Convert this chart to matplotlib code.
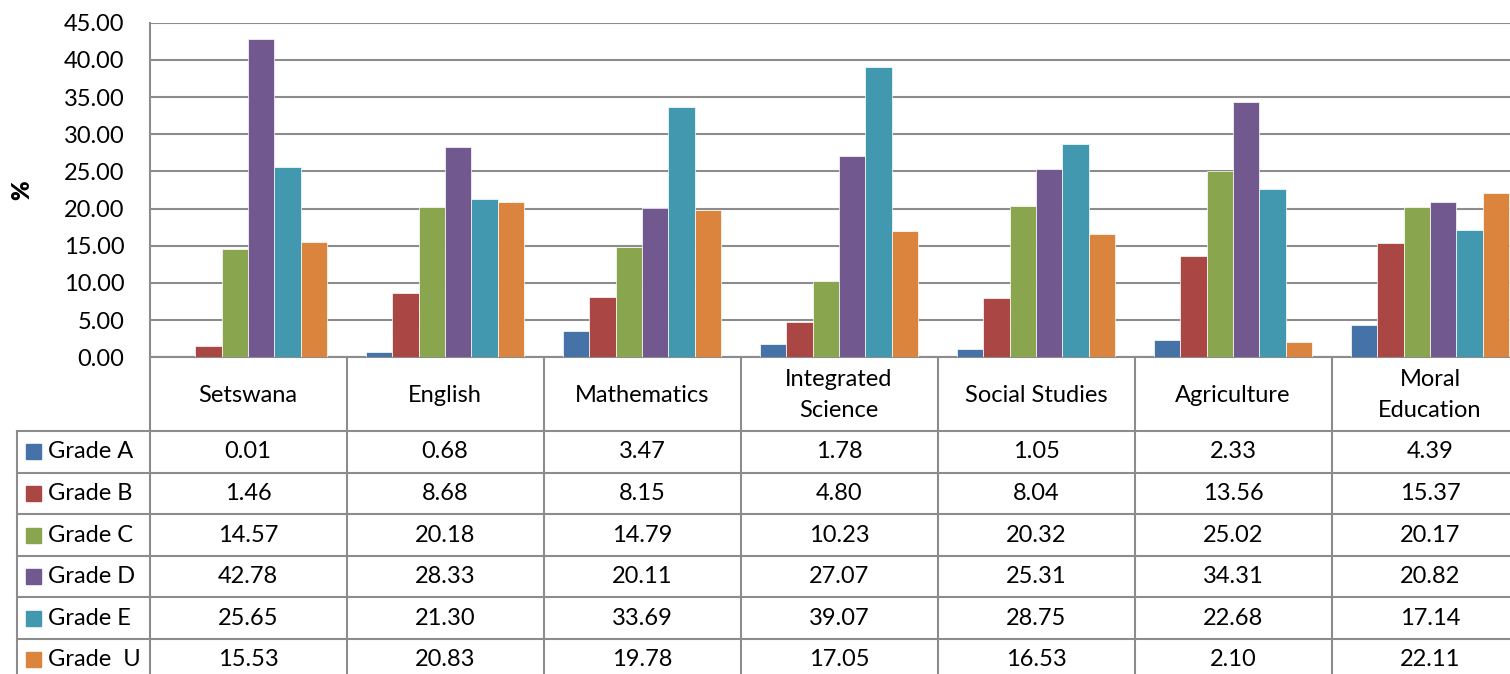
import numpy as np
import matplotlib
matplotlib.use("Agg")
import matplotlib.pyplot as plt
from matplotlib.patches import Rectangle

plt.rcParams['font.family'] = ['Lato', 'DejaVu Sans']

subjects = ['Setswana', 'English', 'Mathematics', 'Integrated\nScience',
            'Social Studies', 'Agriculture', 'Moral\nEducation']
grades = ['Grade A', 'Grade B', 'Grade C', 'Grade D', 'Grade E', 'Grade  U']
grade_a = [0.01, 0.68, 3.47, 1.78, 1.05, 2.33, 4.39]
grade_b = [1.46, 8.68, 8.15, 4.80, 8.04, 13.56, 15.37]
grade_c = [14.57, 20.18, 14.79, 10.23, 20.32, 25.02, 20.17]
grade_d = [42.78, 28.33, 20.11, 27.07, 25.31, 34.31, 20.82]
grade_e = [25.65, 21.30, 33.69, 39.07, 28.75, 22.68, 17.14]
grade_u = [15.53, 20.83, 19.78, 17.05, 16.53, 2.10, 22.11]
series = [grade_a, grade_b, grade_c, grade_d, grade_e, grade_u]
colors = ['#4572A7', '#AA4643', '#89A54E', '#71588F', '#4198AF', '#DB843D']

W, H = 1510, 674
fig = plt.figure(figsize=(W / 100, H / 100), dpi=100)

# layout in pixels
x0 = 149.5      # left edge of plot area
cw = 197.0      # width of one category
ytop = 22.7
ybot = 357.3
grid_col = '#8c8c8c'
lw = 1.5
fs = 17

ax = fig.add_axes([x0 / W, 1 - ybot / H, len(subjects) * cw / W, (ybot - ytop) / H])
bw = 0.134
start = 0.098
for k, vals in enumerate(series):
    xs = np.arange(len(subjects)) + start + (k + 0.5) * bw
    ax.bar(xs, vals, width=bw, color=colors[k], edgecolor='white', linewidth=0.5, zorder=3)

ax.set_xlim(0, len(subjects))
ax.set_ylim(0, 45)
ax.set_yticks(np.arange(0, 46, 5))
ax.set_yticklabels(['%.2f' % v for v in np.arange(0, 46, 5)], fontsize=fs)
ax.set_xticks([])
ax.tick_params(axis='y', length=0, pad=18)
ax.yaxis.grid(True, color=grid_col, linewidth=lw, zorder=0)
for s in ['top', 'right']:
    ax.spines[s].set_visible(False)
for s in ['left', 'bottom']:
    ax.spines[s].set_color(grid_col)
    ax.spines[s].set_linewidth(lw)
ax.set_axisbelow(True)
fig.text(22 / W, 1 - 190 / H, '%', rotation=90, fontsize=fs, fontweight='heavy',
         ha='center', va='center')

# data table below the plot
tb = fig.add_axes([0, 0, 1, 1], zorder=-1)
tb.set_xlim(0, W)
tb.set_ylim(H, 0)
tb.axis('off')

row_top = 431.0
rh = 41.6
x_left = 17.0
x_right = x0 + len(subjects) * cw + 20

for i in range(len(subjects) + 1):
    xv = x0 + i * cw
    tb.plot([xv, xv], [ybot, H + 5], color=grid_col, lw=lw, solid_capstyle='butt')
tb.plot([x_left, x_left], [row_top, H + 5], color=grid_col, lw=lw)
for r in range(len(grades)):
    yh = row_top + r * rh
    tb.plot([x_left, x_right], [yh, yh], color=grid_col, lw=lw)

for i, name in enumerate(subjects):
    tb.text(x0 + (i + 0.5) * cw, (ybot + row_top) / 2 + 1, name, ha='center', va='center',
            fontsize=fs, linespacing=1.55)

for r, g in enumerate(grades):
    yc = row_top + (r + 0.5) * rh
    tb.add_patch(Rectangle((26, yc - 7.5), 15, 15, color=colors[r]))
    tb.text(47.5, yc, g, ha='left', va='center', fontsize=fs)
    for i in range(len(subjects)):
        tb.text(x0 + (i + 0.5) * cw, yc, '%.2f' % series[r][i], ha='center', va='center',
                fontsize=fs)

fig.savefig('out.png', dpi=100)
